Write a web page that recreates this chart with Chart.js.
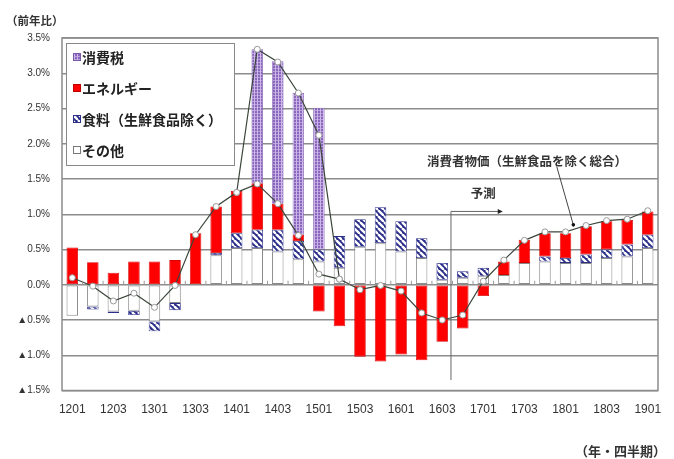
<!DOCTYPE html>
<html><head><meta charset="utf-8">
<script src="https://cdn.jsdelivr.net/npm/chart.js@4/dist/chart.umd.min.js"></script>
<style>html,body{margin:0;padding:0;background:#fff;}#wrap{width:674px;height:459px;position:relative;}</style>
</head><body><div id="wrap"><canvas id="c" width="674" height="459"></canvas></div>
<script>
const categories = ['1201','1202','1203','1204','1301','1302','1303','1304','1401','1402','1403','1404','1501','1502','1503','1504','1601','1602','1603','1604','1701','1702','1703','1704','1801','1802','1803','1804','1901'];
const otherValues  = [-0.44,-0.31,-0.38,-0.37,-0.52,-0.26,0,0.42,0.52,0.52,0.47,0.36,0.33,0.24,0.54,0.59,0.47,0.38,0.07,0.10,0.12,0.14,0.31,0.33,0.31,0.31,0.38,0.40,0.52];
const foodValues   = [0,-0.04,-0.02,-0.06,-0.14,-0.10,0,0.03,0.21,0.26,0.31,0.26,0.17,0.45,0.39,0.51,0.43,0.28,0.24,0.09,0.12,0,0,0.07,0.07,0.12,0.12,0.17,0.19];
const energyValues = [0.53,0.32,0.17,0.33,0.33,0.35,0.73,0.66,0.60,0.66,0.37,0.09,-0.38,-0.59,-1.02,-1.09,-0.99,-1.07,-0.81,-0.62,-0.16,0.19,0.33,0.33,0.35,0.40,0.40,0.35,0.33];
const taxValues    = [null,null,null,null,null,null,null,null,null,1.90,2.02,2.01,2.01,null,null,null,null,null,null,null,null,null,null,null,null,null,null,null,null];
const cpiCoreValues = [0.10,-0.02,-0.23,-0.12,-0.32,-0.01,0.71,1.11,1.31,1.43,1.15,0.70,0.15,0.08,-0.07,-0.01,-0.09,-0.40,-0.50,-0.43,0.05,0.35,0.63,0.75,0.75,0.84,0.91,0.93,1.05];
const cpiWithTaxValues = [null,null,null,null,null,null,null,null,1.31,3.34,3.16,2.72,2.12,0.08,null,null,null,null,null,null,null,null,null,null,null,null,null,null,null];
const seriesNames = ['消費税','エネルギー','食料（生鮮食品除く）','その他'];
const yTickMin = -1.5, yTickMax = 3.5, yTickStep = 0.5;
const forecastStartIndex = 19;

function makePattern(kind){
  const c=document.createElement('canvas');
  const x=c.getContext('2d');
  if(kind==='tax'){
    c.width=3;c.height=3;
    x.fillStyle='#8a66bd';x.fillRect(0,0,3,3);
    x.fillStyle='#cdb7e8';x.fillRect(2,0,1,3);
    x.fillStyle='#b79fdc';x.fillRect(0,2,2,1);
  } else {
    const s=6;c.width=s;c.height=s;
    x.fillStyle='#2b2f8a';x.fillRect(0,0,s,s);
    x.strokeStyle='#ffffff';x.lineWidth=2.4;
    for(const k of [-s,0,s]){x.beginPath();x.moveTo(k,0);x.lineTo(k+s,s);x.stroke();}
  }
  return x.createPattern(c,'repeat');
}
const taxPattern=makePattern('tax');
const foodPattern=makePattern('food');

const font='"Noto Sans CJK JP","Noto Sans",sans-serif';

const decorPlugin={
  id:'decor',
  beforeDraw(chart){
    const ctx=chart.ctx;ctx.save();ctx.fillStyle='#fff';ctx.fillRect(0,0,chart.width,chart.height);ctx.restore();
  },
  afterDatasetsDraw(chart){
    const {ctx,chartArea:a,scales:{x,y}}=chart;
    ctx.save();
    ctx.strokeStyle='#8c8c8c';ctx.lineWidth=1.5;
    ctx.strokeRect(a.left,a.top,a.right-a.left,a.bottom-a.top);
    const y0=y.getPixelForValue(0);
    ctx.lineWidth=1;ctx.strokeStyle='#9a9a9a';
    for(let i=1;i<categories.length;i++){
      const bx=x.getPixelForValue(i-0.5);
      ctx.beginPath();ctx.moveTo(bx,y0);ctx.lineTo(bx,y0-4);ctx.stroke();
    }
    const fx=x.getPixelForValue(forecastStartIndex-0.5)-1.5;
    const fyTop=y.getPixelForValue(1.04), fyBot=y.getPixelForValue(-1.35);
    const fxEnd=x.getPixelForValue(20.8);
    ctx.strokeStyle='#666';ctx.lineWidth=1;
    ctx.beginPath();ctx.moveTo(fx,fyBot);ctx.lineTo(fx,fyTop);ctx.lineTo(fxEnd,fyTop);ctx.stroke();
    ctx.fillStyle='#222';
    ctx.beginPath();ctx.moveTo(fxEnd+3,fyTop);ctx.lineTo(fxEnd-2,fyTop-2.5);ctx.lineTo(fxEnd-2,fyTop+2.5);ctx.closePath();ctx.fill();
    ctx.font='bold 12.5px '+font;ctx.fillStyle='#333';ctx.textAlign='center';ctx.textBaseline='middle';
    ctx.fillText('予測',(fx+fxEnd)/2+8,fyTop-18);
    const ax1=x.getPixelForValue(23.57), ay1=y.getPixelForValue(1.68);
    const ax2=x.getPixelForValue(24.38), ay2=y.getPixelForValue(0.85);
    ctx.strokeStyle='#444';ctx.lineWidth=1;
    ctx.beginPath();ctx.moveTo(ax1,ay1);ctx.lineTo(ax2,ay2);ctx.stroke();
    ctx.fillStyle='#111';ctx.beginPath();ctx.arc(ax2,ay2,1.8,0,Math.PI*2);ctx.fill();
    ctx.font='bold 12.5px '+font;ctx.fillStyle='#333';
    ctx.fillText('消費者物価（生鮮食品を除く総合）',527,161);
    ctx.restore();
  },
  afterDraw(chart){
    const ctx=chart.ctx;ctx.save();
    ctx.font='bold 11.5px '+font;ctx.fillStyle='#333';ctx.textBaseline='middle';ctx.textAlign='left';
    ctx.fillText('（前年比）',6,21);
    ctx.font='bold 13px '+font;ctx.textAlign='right';
    ctx.fillText('（年・四半期）',666,451);
    const lx=66.5, ly=43.5, lw=168, lh=122;
    ctx.fillStyle='#fff';ctx.fillRect(lx,ly,lw,lh);
    ctx.strokeStyle='#888';ctx.lineWidth=1;ctx.strokeRect(lx,ly,lw,lh);
    const fills=[taxPattern,'#ff0000',foodPattern,'#ffffff'];
    const borders=['#7a5aa5','#c00000','#2b2f8a','#777'];
    const rows=[57,88,119,150];
    ctx.font='bold 14px '+font;ctx.textAlign='left';ctx.textBaseline='middle';
    seriesNames.forEach((n,i)=>{
      ctx.fillStyle=fills[i];ctx.fillRect(73.5,rows[i]-3.5,7,7);
      ctx.strokeStyle=borders[i];ctx.strokeRect(73.5,rows[i]-3.5,7,7);
      ctx.fillStyle='#222';ctx.fillText(n,82,rows[i]+0.5);
    });
    ctx.restore();
  }
};

const barCommon={type:'bar',stack:'b',order:2,barPercentage:0.56,categoryPercentage:1,borderSkipped:false};
new Chart(document.getElementById('c'),{
  data:{
    labels:categories,
    datasets:[
      Object.assign({label:seriesNames[3],data:otherValues,backgroundColor:'#ffffff',borderColor:'#8a8a8a',borderWidth:1},barCommon),
      Object.assign({label:seriesNames[2],data:foodValues,backgroundColor:foodPattern,borderColor:'#2b2f8a',borderWidth:0.8},barCommon),
      Object.assign({label:seriesNames[1],data:energyValues,backgroundColor:'#ff0000',borderColor:'#d40000',borderWidth:0.8},barCommon),
      Object.assign({label:seriesNames[0],data:taxValues,backgroundColor:taxPattern,borderColor:'#8a6ab5',borderWidth:0.8},barCommon),
      {type:'line',label:'消費者物価（生鮮食品を除く総合・消費税込み）',data:cpiWithTaxValues,stack:'l2',order:0,borderColor:'#3b463b',borderWidth:1.2,tension:0,spanGaps:false,
        pointRadius:3,pointBackgroundColor:'#fff',pointBorderColor:'#999',pointBorderWidth:1},
      {type:'line',label:'消費者物価（生鮮食品を除く総合）',data:cpiCoreValues,stack:'l1',order:1,borderColor:'#3b463b',borderWidth:1.2,tension:0,
        pointRadius:3,pointBackgroundColor:'#fff',pointBorderColor:'#999',pointBorderWidth:1}
    ]
  },
  options:{
    responsive:false,animation:false,devicePixelRatio:1,
    layout:{padding:{top:38,right:16,left:0,bottom:0}},
    plugins:{legend:{display:false},tooltip:{enabled:false}},
    scales:{
      x:{stacked:true,grid:{display:false,drawTicks:false},border:{display:false},
        ticks:{autoSkip:false,maxRotation:0,minRotation:0,padding:12,color:'#333',font:{size:12,family:'"Liberation Sans",Arial,sans-serif'},
          callback:(v,i)=> i%2===0?categories[i]:''},
        afterFit:s=>{s.height=68.5;}},
      y:{stacked:true,min:yTickMin,max:yTickMax,
        grid:{color:'#8c8c8c',lineWidth:1.5,drawTicks:false},border:{display:false},
        ticks:{stepSize:yTickStep,padding:12,color:'#333',font:{size:10,family:'"Liberation Sans",Arial,sans-serif'},
          callback:v=> (v<0?'▲'+Math.abs(v).toFixed(1):v.toFixed(1))+'%'},
        afterFit:s=>{s.width=62;}}
    }
  },
  plugins:[decorPlugin]
});
</script></body></html>
